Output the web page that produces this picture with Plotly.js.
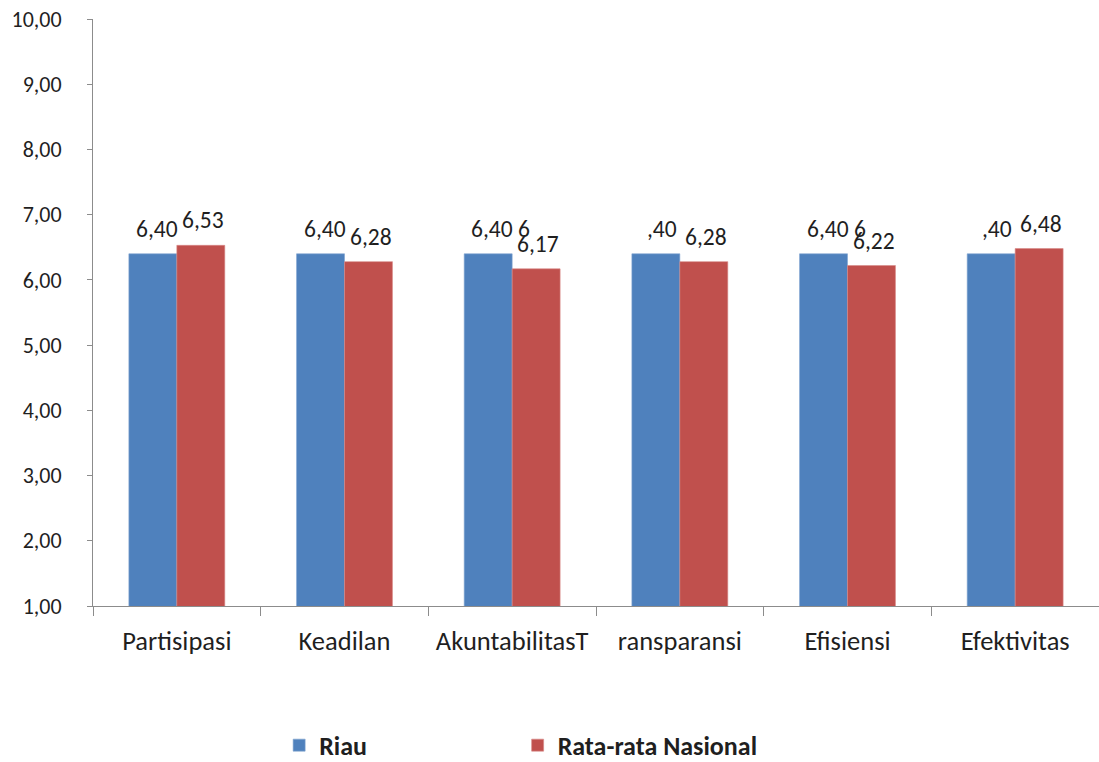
<!DOCTYPE html>
<html>
<head>
<meta charset="utf-8">
<script src="https://cdn.plot.ly/plotly-3.0.1.min.js"></script>
<style>
  html, body { margin: 0; padding: 0; background: #ffffff; }
  #chart { width: 1099px; height: 762px; }
</style>
</head>
<body>
<div id="chart"></div>
<script>
// Governance index per dimension: Riau vs national average
const categories = ["Partisipasi", "Keadilan", "AkuntabilitasT", "ransparansi", "Efisiensi", "Efektivitas"];
const riau = [6.40, 6.40, 6.40, 6.40, 6.40, 6.40];
const nasional = [6.53, 6.28, 6.17, 6.28, 6.22, 6.48];
const riauLabels = ["6,40", "6,40", "6,40 6", ",40", "6,40 6", ",40"];
const nasionalLabels = ["6,53", "6,28", "6,17", "6,28", "6,22", "6,48"];
const seriesNames = ["Riau", "Rata-rata Nasional"];

const FONT = "Carlito, Lato, 'Open Sans', sans-serif";
const TEXT = "#1f1f1f";
const AXIS = "#8c8c8c";
const BLUE = "#4F81BD";
const RED = "#C0504D";

const traces = [
  {
    type: "bar", name: seriesNames[0], x: categories, y: riau,
    marker: { color: BLUE, line: { color: "#7fa3d0", width: 0.6 } },
    legend: "legend",
    hoverinfo: "skip"
  },
  {
    type: "bar", name: seriesNames[1], x: categories, y: nasional,
    marker: { color: RED, line: { color: "#d88a88", width: 0.6 } },
    legend: "legend2",
    hoverinfo: "skip"
  }
];

// Bar geometry in pixels (plot width / categories, two bars per group)
const BAR = 48;
const LABEL_SIZE = 23.5;
const annotations = [];
categories.forEach((c, i) => {
  const t = riauLabels[i];
  const rightAligned = t.startsWith(",");
  annotations.push({
    x: c, y: riau[i], xref: "x", yref: "y",
    text: t, showarrow: false,
    xanchor: rightAligned ? "right" : "left",
    xshift: rightAligned ? -1 : -BAR + 5,
    yanchor: "middle", yshift: 25,
    font: { family: FONT, size: LABEL_SIZE, color: TEXT }
  });
  annotations.push({
    x: c, y: nasional[i], xref: "x", yref: "y",
    text: nasionalLabels[i], showarrow: false,
    xanchor: "center", xshift: BAR / 2 + 2,
    yanchor: "middle", yshift: 25,
    font: { family: FONT, size: LABEL_SIZE, color: TEXT }
  });
});

const legendStyle = (x) => ({
  orientation: "h",
  xref: "container", yref: "container",
  x: x, xanchor: "left", y: 0.022, yanchor: "middle",
  font: { family: FONT, size: 26, color: TEXT, weight: "bold" },
  bgcolor: "rgba(0,0,0,0)"
});

const layout = {
  width: 1099, height: 762,
  margin: { l: 93, r: 0, t: 19, b: 156 },
  paper_bgcolor: "#ffffff", plot_bgcolor: "#ffffff",
  separators: ",.",
  barmode: "group", bargap: 0.428, bargroupgap: 0,
  font: { family: FONT, size: 20, color: TEXT },
  xaxis: {
    type: "category",
    showgrid: false, zeroline: false,
    showline: true, linecolor: AXIS, linewidth: 1,
    ticks: "outside", tickson: "boundaries", ticklen: 9, tickcolor: AXIS,
    tickfont: { family: FONT, size: 26.5, color: TEXT },
    ticklabelstandoff: 11,
    automargin: false
  },
  yaxis: {
    range: [1, 10], tick0: 1, dtick: 1, tickformat: ".2f",
    showgrid: false, zeroline: false,
    showline: true, linecolor: AXIS, linewidth: 1,
    ticks: "outside", ticklen: 5, tickcolor: AXIS,
    tickfont: { family: FONT, size: 22, color: TEXT },
    ticklabelstandoff: 21,
    automargin: false
  },
  showlegend: true,
  legend: legendStyle(0.254),
  legend2: legendStyle(0.471),
  annotations: annotations
};

Plotly.newPlot("chart", traces, layout, { displayModeBar: false, staticPlot: true });
</script>
</body>
</html>
